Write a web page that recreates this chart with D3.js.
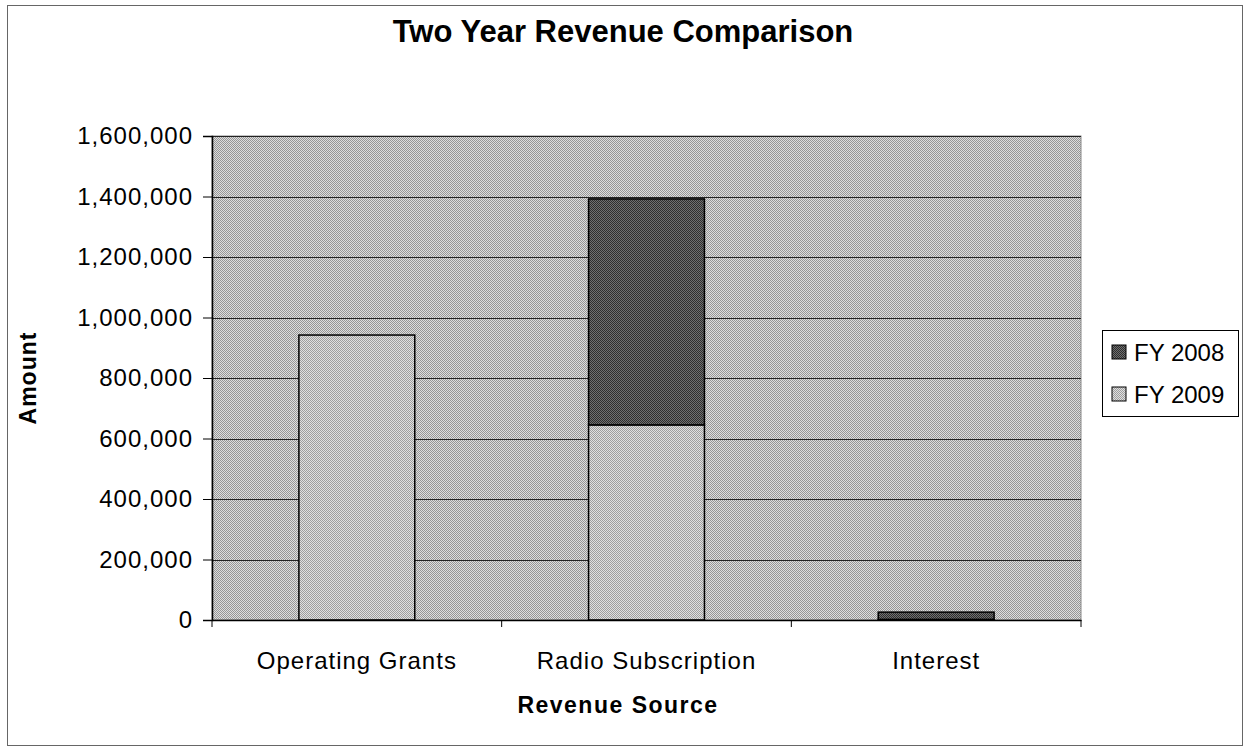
<!DOCTYPE html>
<html>
<head>
<meta charset="utf-8">
<script src="https://cdn.jsdelivr.net/npm/d3@7"></script>
<style>
  html, body { margin: 0; padding: 0; background: #fff; }
  svg { display: block; }
  text { font-family: "Liberation Sans", Arial, sans-serif; fill: #000; }
</style>
</head>
<body>
<svg id="chart" width="1245" height="746"></svg>
<script>
// ---- data ----
const categories = ["Operating Grants", "Radio Subscription", "Interest"];
const seriesNames = ["FY 2008", "FY 2009"];
const fy2009 = [942000, 645000, 2000];
const fy2008 = [0, 747000, 24000];
const yTicks = [0, 200000, 400000, 600000, 800000, 1000000, 1200000, 1400000, 1600000];
const chartTitle = "Two Year Revenue Comparison";
const xTitle = "Revenue Source";
const yTitle = "Amount";

// ---- layout ----
const W = 1245, H = 746;
const plot = { left: 212, right: 1081, top: 136, bottom: 620 };
const FONT = "Liberation Sans, Arial, sans-serif";

const svg = d3.select("#chart");
const defs = svg.append("defs");

function checker(id, c1, c2) {
  const p = defs.append("pattern").attr("id", id)
    .attr("patternUnits", "userSpaceOnUse").attr("width", 2).attr("height", 2);
  p.append("rect").attr("width", 2).attr("height", 2).attr("fill", c1);
  p.append("rect").attr("width", 1).attr("height", 1).attr("fill", c2);
  p.append("rect").attr("x", 1).attr("y", 1).attr("width", 1).attr("height", 1).attr("fill", c2);
}
checker("bgPat", "#dedede", "#969696");
checker("fy09Pat", "#e0e0e0", "#9e9e9e");
checker("fy08Pat", "#707070", "#2e2e2e");

// outer chart border
svg.append("rect").attr("x", 7.5).attr("y", 5.5).attr("width", 1235).attr("height", 740)
  .attr("fill", "#fff").attr("stroke", "#666").attr("stroke-width", 1);

const x = d3.scaleBand().domain(categories).range([plot.left, plot.right]).paddingInner(0.6).paddingOuter(0.3);
const xOuter = d3.scaleBand().domain(categories).range([plot.left, plot.right]).padding(0);
const y = d3.scaleLinear().domain([0, 1600000]).range([plot.bottom, plot.top]);

// plot background
svg.append("rect").attr("x", plot.left).attr("y", plot.top)
  .attr("width", plot.right - plot.left).attr("height", plot.bottom - plot.top)
  .attr("fill", "url(#bgPat)").attr("stroke", "#888").attr("stroke-width", 1);

// gridlines
svg.append("g").selectAll("line").data(yTicks.filter(d => d > 0)).join("line")
  .attr("x1", plot.left).attr("x2", plot.right)
  .attr("y1", d => Math.round(y(d)) + 0.5).attr("y2", d => Math.round(y(d)) + 0.5)
  .attr("stroke", "#222").attr("stroke-width", 1);

// stacked bars
const rows = categories.map((c, i) => ({ cat: c, "FY 2009": fy2009[i], "FY 2008": fy2008[i] }));
const stack = d3.stack().keys(["FY 2009", "FY 2008"]);
const layers = stack(rows);
const fills = { "FY 2009": "url(#fy09Pat)", "FY 2008": "url(#fy08Pat)" };

svg.append("g").selectAll("g").data(layers).join("g")
  .attr("fill", d => fills[d.key])
  .selectAll("rect").data(d => d.filter(s => s[1] - s[0] > 0)).join("rect")
  .attr("x", d => x(d.data.cat))
  .attr("width", x.bandwidth())
  .attr("y", d => y(d[1]))
  .attr("height", d => y(d[0]) - y(d[1]))
  .attr("stroke", "#000").attr("stroke-width", 1.5);

// y axis
const yAxis = d3.axisLeft(y).tickValues(yTicks).tickSize(9).tickPadding(10)
  .tickFormat(d3.format(",d"));
const gy = svg.append("g").attr("transform", `translate(${plot.left},0)`).call(yAxis);
gy.select(".domain").attr("stroke", "#000").attr("stroke-width", 1.5);
gy.selectAll(".tick line").attr("stroke", "#000");
gy.selectAll(".tick text").attr("font-size", 24).attr("font-family", FONT)
  .attr("letter-spacing", 1).attr("fill", "#000");

// x axis
const xAxis = d3.axisBottom(xOuter).tickSize(0).tickPadding(32);
const gx = svg.append("g").attr("transform", `translate(0,${plot.bottom})`).call(xAxis);
gx.select(".domain").attr("stroke", "#000").attr("stroke-width", 1.5);
gx.selectAll(".tick text").attr("font-size", 24).attr("font-family", FONT)
  .attr("letter-spacing", 1).attr("fill", "#000");
// category boundary ticks
const bounds = categories.map(c => xOuter(c)).concat([plot.right]);
svg.append("g").selectAll("line").data(bounds).join("line")
  .attr("x1", d => d).attr("x2", d => d)
  .attr("y1", plot.bottom).attr("y2", plot.bottom + 7)
  .attr("stroke", "#000").attr("stroke-width", 1);

// titles
svg.append("text").attr("x", 623).attr("y", 42).attr("text-anchor", "middle")
  .attr("font-size", 31).attr("font-weight", "bold").text(chartTitle);
svg.append("text").attr("x", 618).attr("y", 713).attr("text-anchor", "middle")
  .attr("font-size", 23).attr("font-weight", "bold").attr("letter-spacing", 1.5).text(xTitle);
svg.append("text").attr("transform", `translate(36,${(plot.top + plot.bottom) / 2}) rotate(-90)`)
  .attr("text-anchor", "middle").attr("font-size", 23).attr("font-weight", "bold")
  .attr("letter-spacing", 1).text(yTitle);

// legend
const lg = svg.append("g").attr("transform", "translate(1102,330)");
lg.append("rect").attr("x", 0.5).attr("y", 0.5).attr("width", 136).attr("height", 86)
  .attr("fill", "#fff").attr("stroke", "#000").attr("stroke-width", 1);
const items = lg.selectAll("g.item").data(seriesNames).join("g").attr("class", "item")
  .attr("transform", (d, i) => `translate(10,${22 + i * 42})`);
items.append("rect").attr("x", 0).attr("y", -7).attr("width", 14).attr("height", 14)
  .attr("fill", d => d === "FY 2008" ? "url(#fy08Pat)" : "url(#fy09Pat)")
  .attr("stroke", "#000").attr("stroke-width", 1);
items.append("text").attr("x", 22).attr("y", 9).attr("font-size", 24).text(d => d);
</script>
</body>
</html>
